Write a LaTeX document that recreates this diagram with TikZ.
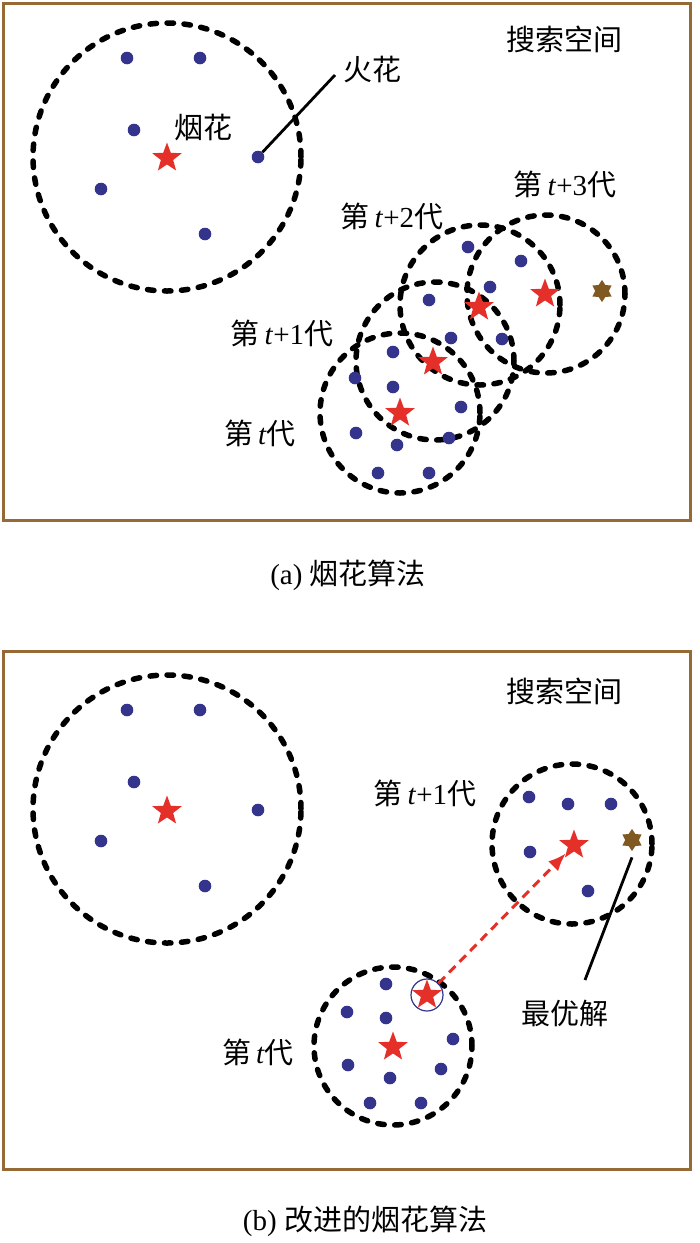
\documentclass[tikz,border=0pt]{standalone}
\usepackage{fontspec}
\setmainfont{Liberation Serif}
\newfontfamily\cjk{Noto Sans CJK SC}
\usetikzlibrary{shapes.geometric,arrows.meta}
\definecolor{sparkblue}{RGB}{52,52,140}
\definecolor{starred}{RGB}{228,48,40}
\definecolor{bestbrown}{RGB}{128,88,34}
\definecolor{framebrown}{RGB}{150,106,52}
\newcommand{\genlabel}[1]{{\cjk 第}\,\textit{t}#1{\cjk 代}}

\begin{document}
\begin{tikzpicture}[x=1pt,y=-1pt,
    region/.style={draw=black, line width=5.5pt, dash pattern=on 6.5pt off 10.5pt, line cap=round},
    spark/.style={fill=sparkblue},
    firework/.style={star, star points=5, star point ratio=2.4, fill=starred, inner sep=0pt, minimum size=31pt},
    best/.style={star, star points=6, star point ratio=1.6, fill=bestbrown, inner sep=0pt, minimum size=22pt},
    lbl/.style={font=\fontsize{29}{32}\selectfont, inner sep=0pt},
    frame/.style={draw=framebrown, line width=3pt}]
    \useasboundingbox (0,0) rectangle (700,1243);

    % (a) fireworks algorithm
    \draw[frame] (3,3) rectangle (690,520);
    \node[lbl] (spaceA) at (564,39) {\cjk 搜索空间};
    \draw[region] (167,157) circle (134pt);
    \foreach \x/\y in {127/58, 200/58, 134/130, 101/189, 205/234}
        \fill[spark] (\x,\y) circle (6.3pt);
    \node[circle, spark, inner sep=0pt, minimum size=12.6pt] (sparkA) at (258,157) {};
    \node[firework] (fwA) at (167,158) {};
    \node[lbl] (fwlabelA) at (203,128) {\cjk 烟花};
    \node[lbl] (sparklabelA) at (372,69) {\cjk 火花};
    \coordinate (sparkend) at (335,75);
    \draw[line width=2.8pt] (sparkA) -- (sparkend);

    % generations t .. t+3
    \draw[region] (400,413) circle (80pt);
    \draw[region] (435,361) circle (79pt);
    \draw[region] (480,305) circle (80pt);
    \draw[region] (546,294) circle (79pt);
    \foreach \x/\y in {468/247, 521/261, 490/287, 429/300, 451/338, 502/339, 393/352, 355/378,
        393/387, 461/407, 356/433, 397/445, 449/438, 378/473, 429/473}
        \fill[spark] (\x,\y) circle (6.3pt);
    \node[firework] (genA0) at (400,413) {};
    \node[firework] (genA1) at (433,362) {};
    \node[firework] (genA2) at (479,307) {};
    \node[firework] (genA3) at (545,294) {};
    \node[best] (bestA) at (602,291) {};
    \node[lbl] (labelA0) at (260,433) {\genlabel{}};
    \node[lbl] (labelA1) at (282,333) {\genlabel{+1}};
    \node[lbl] (labelA2) at (392,216) {\genlabel{+2}};
    \node[lbl] (labelA3) at (565,184) {\genlabel{+3}};
    \node[lbl] (captionA) at (348,575) {(a) {\cjk 烟花算法}};

    % (b) improved fireworks algorithm
    \begin{scope}[yshift=-652pt]
        \draw[frame] (3,-1) rectangle (690,517);
        \node[lbl] (spaceB) at (564,39) {\cjk 搜索空间};
        \draw[region] (167,157) circle (134pt);
        \foreach \x/\y in {127/58, 200/58, 134/130, 101/189, 205/234, 258/158}
            \fill[spark] (\x,\y) circle (6.3pt);
        \node[firework] (fwB) at (167,159) {};

        \draw[region] (393,394) circle (79pt);
        \draw[region] (572,192) circle (80pt);
        \foreach \x/\y in {386/332, 347/360, 386/366, 453/387, 348/413, 390/426, 441/417, 370/451,
            421/451, 529/145, 568/152, 611/152, 530/200, 588/239}
            \fill[spark] (\x,\y) circle (6.3pt);
        \node[firework] (genB0) at (393,395) {};
        \node[circle, draw=sparkblue, line width=1.2pt, minimum size=32pt, inner sep=0pt] (ring) at (427,343) {};
        \node[firework] (chosen) at (427,343) {};
        \node[firework] (genB1) at (574,193) {};
        \node[best] (bestB) at (632,188) {};
        \coordinate (bestend) at (585,328);
        \draw[line width=2.8pt] (bestB.south) ++(0,6) -- (bestend);
        \draw[starred, line width=3pt, dash pattern=on 9pt off 6pt, -{Latex[length=18pt,width=14pt]}]
            (ring) -- (genB1);
        \node[lbl] (labelB0) at (258,400) {\genlabel{}};
        \node[lbl] (labelB1) at (425,141) {\genlabel{+1}};
        \node[lbl] (bestlabel) at (565,361) {\cjk 最优解};
        \node[lbl] (captionB) at (365,569) {(b) {\cjk 改进的烟花算法}};
    \end{scope}
\end{tikzpicture}
\end{document}
